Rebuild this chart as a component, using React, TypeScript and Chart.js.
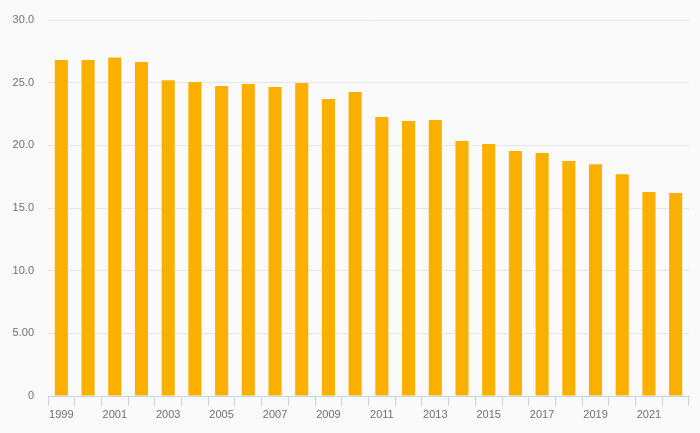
import React, { useEffect, useRef } from "react";
import { Chart, registerables } from "chart.js";

Chart.register(...registerables);

const years: string[] = [
  "1999", "2000", "2001", "2002", "2003", "2004", "2005", "2006",
  "2007", "2008", "2009", "2010", "2011", "2012", "2013", "2014",
  "2015", "2016", "2017", "2018", "2019", "2020", "2021", "2022",
];

const values: number[] = [
  26.8, 26.8, 27.0, 26.65, 25.2, 25.06, 24.74, 24.9,
  24.66, 24.98, 23.7, 24.25, 22.27, 21.95, 22.03, 20.35,
  20.11, 19.55, 19.39, 18.75, 18.5, 17.7, 16.28, 16.2,
];

const yTickLabels: Record<number, string> = {
  0: "0", 5: "5.00", 10: "10.0", 15: "15.0", 20: "20.0", 25: "25.0", 30: "30.0",
};

export default function App() {
  const ref = useRef<HTMLCanvasElement | null>(null);

  useEffect(() => {
    document.body.style.backgroundColor = "#fafafa";
    if (!ref.current) return;
    const font = { family: "'Liberation Sans', Arial, sans-serif", size: 11 };
    const chart = new Chart(ref.current, {
      type: "bar",
      data: {
        labels: years,
        datasets: [
          {
            data: values,
            backgroundColor: "#fbb000",
            borderWidth: 0,
            categoryPercentage: 1,
            barPercentage: 0.49,
          },
        ],
      },
      options: {
        animation: false,
        responsive: true,
        maintainAspectRatio: false,
        layout: { padding: { top: 12, right: 3, bottom: 0, left: 0 } },
        plugins: { legend: { display: false }, tooltip: { enabled: false } },
        scales: {
          x: {
            grid: {
              offset: true,
              drawOnChartArea: false,
              drawTicks: true,
              tickLength: 10,
              color: "#c6d4ea",
            },
            border: { display: true, color: "#c6d4ea" },
            ticks: {
              autoSkip: false,
              maxRotation: 0,
              color: "#707070",
              font,
              padding: 2,
              callback: (_v: any, i: number) => (i % 2 === 0 ? years[i] : ""),
            },
            afterFit: (s: any) => {
              s.height = 29;
            },
          },
          y: {
            min: 0,
            max: 30,
            grid: {
              color: "#e6e6e6",
              drawTicks: true,
              tickLength: 12,
              tickColor: "rgba(0,0,0,0)",
            },
            border: { display: false },
            ticks: {
              stepSize: 5,
              color: "#707070",
              font,
              padding: 2,
              callback: (v: any) => yTickLabels[v as number] ?? String(v),
            },
            afterFit: (s: any) => {
              s.width = 40;
            },
          },
        },
      },
    });
    return () => chart.destroy();
  }, []);

  return (
    <div style={{ height: 417, position: "relative" }}>
      <canvas ref={ref} />
    </div>
  );
}
